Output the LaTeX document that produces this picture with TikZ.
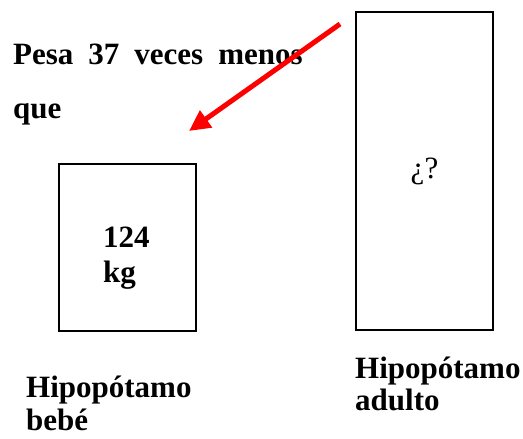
\documentclass[tikz,border=0pt]{standalone}
\usepackage{fontspec}
\setmainfont{Liberation Serif}
\usetikzlibrary{arrows.meta}
\begin{document}
\begin{tikzpicture}[x=1pt,y=-1pt,
  box/.style={draw=black,line width=2.6pt,rectangle,inner sep=0pt},
  lbl/.style={font=\fontsize{31}{33}\selectfont\bfseries,inner sep=0pt,anchor=base west},
  redarrow/.style={draw=red,line width=5pt,-{Triangle[length=21pt,width=20pt]}}
]
\useasboundingbox (0,0) rectangle (523,439);
% boxes
\node[box,minimum width=137pt,minimum height=167pt] (baby) at (127.5,247.5) {};
\node[box,minimum width=137pt,minimum height=318pt] (adult) at (424.5,171) {};
% texts
\node[lbl] (pesa) at (13,64) {{\spaceskip=15pt Pesa 37 veces menos}};
\node[lbl] (que) at (13,118) {que};
\node[lbl] (n124) at (103,247) {124};
\node[lbl] (kg) at (103,282) {kg};
\node[font=\fontsize{31}{33}\selectfont,inner sep=0pt] (q) at (adult.center) {¿?};
\node[lbl] (hb1) at (26,397) {Hipopótamo};
\node[lbl] (hb2) at (26,430) {bebé};
\node[lbl] (ha1) at (355,378) {Hipopótamo};
\node[lbl] (ha2) at (355,410) {adulto};
% arrow
\coordinate (astart) at (340,24);
\coordinate (aend) at (189,131);
\draw[redarrow] (astart) -- (aend);
\end{tikzpicture}
\end{document}
